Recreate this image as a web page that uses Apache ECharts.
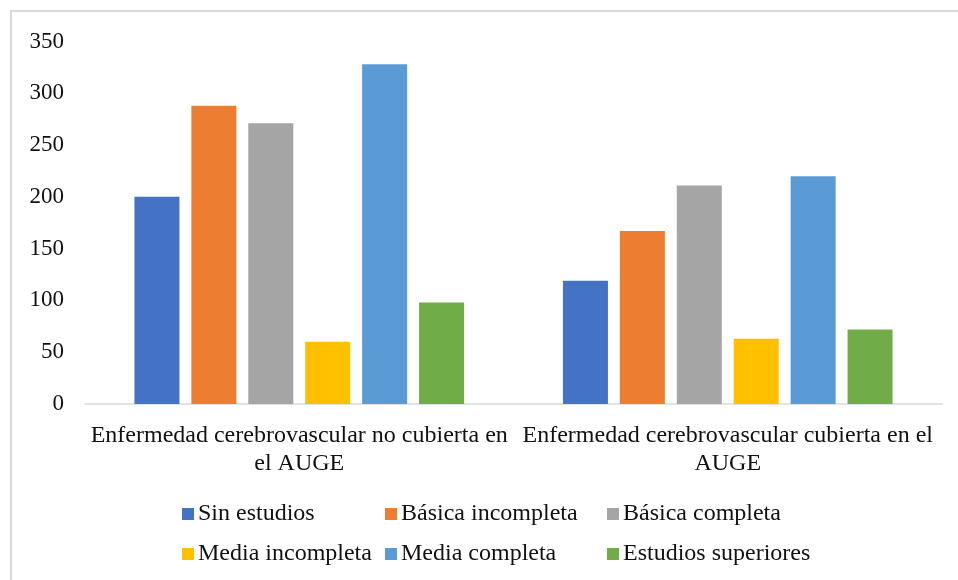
<!DOCTYPE html>
<html>
<head>
<meta charset="utf-8">
<script src="https://cdn.jsdelivr.net/npm/echarts@6/dist/echarts.min.js"></script>
<style>
  html, body { margin: 0; padding: 0; background: #ffffff; }
  #chart { width: 958px; height: 580px; }
</style>
</head>
<body>
<div id="chart"></div>
<script>
// Categories (x axis)
const categories = [
  'Enfermedad cerebrovascular no cubierta en\nel AUGE',
  'Enfermedad cerebrovascular cubierta en el\nAUGE'
];

// Education level series
const seriesNames = [
  'Sin estudios',
  'Básica incompleta',
  'Básica completa',
  'Media incompleta',
  'Media completa',
  'Estudios superiores'
];

const sinEstudios        = [200, 119];
const basicaIncompleta   = [288, 167];
const basicaCompleta     = [271, 211];
const mediaIncompleta    = [60, 63];
const mediaCompleta      = [328, 220];
const estudiosSuperiores = [98, 72];

const seriesValues = [
  sinEstudios, basicaIncompleta, basicaCompleta,
  mediaIncompleta, mediaCompleta, estudiosSuperiores
];

const colors = ['#4472C4', '#ED7D31', '#A5A5A5', '#FFC000', '#5B9BD5', '#70AD47'];

const FONT = '"Liberation Serif", "Times New Roman", serif';
const TEXT = '#111111';

const chart = echarts.init(document.getElementById('chart'), null, { renderer: 'canvas' });

// Legend laid out as three columns of two rows
const legendColumns = [
  { left: 182, items: [seriesNames[0], seriesNames[3]] },
  { left: 385, items: [seriesNames[1], seriesNames[4]] },
  { left: 607, items: [seriesNames[2], seriesNames[5]] }
];

const legends = legendColumns.map(col => ({
  orient: 'vertical',
  left: col.left,
  top: 502,
  data: col.items,
  icon: 'rect',
  itemWidth: 12,
  itemHeight: 12,
  itemGap: 16,
  padding: 0,
  selectedMode: false,
  textStyle: { fontFamily: FONT, fontSize: 24, color: TEXT, padding: [0, 0, 0, -1] }
}));

chart.setOption({
  animation: false,
  backgroundColor: '#ffffff',
  color: colors,
  graphic: [{
    type: 'rect',
    shape: { x: 11, y: 11, width: 1000, height: 640 },
    style: { fill: 'none', stroke: '#d9d9d9', lineWidth: 2 },
    silent: true
  }],
  legend: legends,
  grid: { left: 85, right: 16, top: 41.5, bottom: 176, containLabel: false },
  xAxis: {
    type: 'category',
    data: categories,
    axisTick: { show: false },
    axisLine: { lineStyle: { color: '#d9d9d9', width: 1.5 } },
    axisLabel: {
      interval: 0,
      margin: 18,
      fontFamily: FONT,
      fontSize: 24,
      lineHeight: 28,
      color: TEXT
    }
  },
  yAxis: {
    type: 'value',
    min: 0,
    max: 350,
    interval: 50,
    splitLine: { show: false },
    axisLine: { show: false },
    axisTick: { show: false },
    axisLabel: { margin: 21, fontFamily: FONT, fontSize: 23, color: TEXT }
  },
  series: seriesNames.map((name, i) => ({
    name: name,
    type: 'bar',
    data: seriesValues[i],
    barWidth: 45,
    barGap: '26.5%',
    itemStyle: { color: colors[i] }
  }))
});
</script>
</body>
</html>
